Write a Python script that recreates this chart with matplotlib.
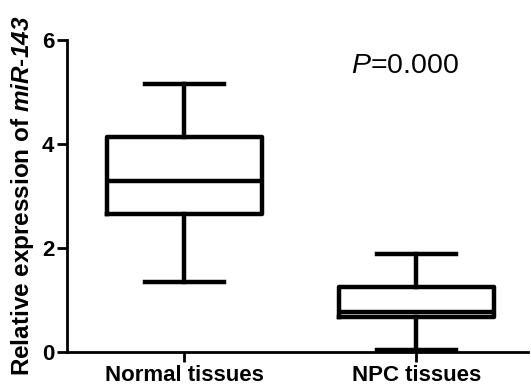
import matplotlib
matplotlib.use('Agg')
import matplotlib.pyplot as plt

plt.rcParams['font.family'] = ['Liberation Sans', 'DejaVu Sans']
plt.rcParams['mathtext.fontset'] = 'custom'
plt.rcParams['mathtext.bfit'] = 'Liberation Sans:italic:bold'
plt.rcParams['mathtext.it'] = 'Liberation Sans:italic'
plt.rcParams['mathtext.rm'] = 'Liberation Sans'

# box statistics
groups = ['Normal tissues', 'NPC tissues']
whislo = [1.35, 0.05]
q1 = [2.65, 0.67]
med = [3.29, 0.77]
q3 = [4.13, 1.25]
whishi = [5.15, 1.88]
p_text = '$\\it{P}$=0.000'

stats = []
for i in range(len(groups)):
    stats.append({'label': groups[i], 'whislo': whislo[i], 'q1': q1[i],
                  'med': med[i], 'q3': q3[i], 'whishi': whishi[i], 'fliers': []})

fig = plt.figure(figsize=(5.31, 3.9), dpi=100)
ax = fig.add_axes([0.126, 0.097, 0.868, 0.8])

lw = 3.2
ax.bxp(stats, positions=[1, 2], widths=0.665, showfliers=False,
       boxprops=dict(linewidth=lw, color='black'),
       medianprops=dict(linewidth=lw, color='black'),
       whiskerprops=dict(linewidth=lw, color='black'),
       capprops=dict(linewidth=lw, color='black'),
       capwidths=0.34)

ax.set_xlim(0.494, 2.48)
ax.set_ylim(0, 6)
ax.set_yticks([0, 2, 4, 6])
ax.spines['top'].set_visible(False)
ax.spines['right'].set_visible(False)
ax.spines['left'].set_linewidth(2)
ax.spines['bottom'].set_linewidth(2)
ax.tick_params(axis='both', width=2, length=7)
ax.set_xticks([1, 2])
ax.set_xticklabels(groups, fontsize=16, fontweight='bold')
for t in ax.get_yticklabels():
    t.set_fontsize(16)
    t.set_fontweight('bold')
ax.tick_params(axis='x', pad=2)
ax.tick_params(axis='y', pad=2)

ax.set_ylabel('Relative expression of $\\mathbfit{miR}$-$\\mathbfit{143}$',
              fontsize=17.5, fontweight='bold', labelpad=4)
ax.text(1.95, 5.5, p_text, fontsize=20.5, ha='center', va='center')

fig.savefig('out.png', dpi=100)
